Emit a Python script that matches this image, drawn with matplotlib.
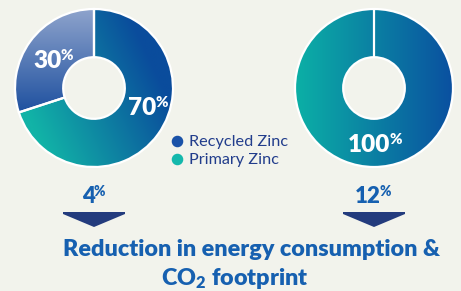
import numpy as np
import matplotlib.pyplot as plt
from matplotlib.colors import to_rgb
from matplotlib.lines import Line2D
from matplotlib.patches import Polygon

# data
left_shares = [70, 30]
left_labels = ['70', '30']
right_shares = [100]
right_labels = ['100']
reductions = ['4', '12']
legend_names = ['Recycled Zinc', 'Primary Zinc']
caption = ['Reduction in energy consumption &', 'CO$_2$ footprint']

W, H = 461, 291
BG = '#f2f3ec'
BLUE = '#1a52a8'
TEAL = '#14b8ac'
TXT = '#1660b0'
NAVY = '#233b7d'

plt.rcParams['font.family'] = ['Lato', 'DejaVu Sans']
plt.rcParams['mathtext.fontset'] = 'custom'
plt.rcParams['mathtext.rm'] = 'Lato:heavy'
plt.rcParams['mathtext.default'] = 'rm'

fig = plt.figure(figsize=(W / 100, H / 100), dpi=100, facecolor=BG)


def gradient(c0, c1, angle, lo=-1.0, hi=1.0, n=200):
    xx, yy = np.meshgrid(np.linspace(-1, 1, n), np.linspace(-1, 1, n))
    a = np.deg2rad(angle)
    t = np.clip((xx * np.cos(a) + yy * np.sin(a) - lo) / (hi - lo), 0, 1)
    c0, c1 = np.array(to_rgb(c0)), np.array(to_rgb(c1))
    return c0 + (c1 - c0) * t[..., None]


def donut(cx, cy, r, shares, grads):
    ax = fig.add_axes([(cx - r) / W, 1 - (cy + r) / H, 2 * r / W, 2 * r / H])
    wedges, _ = ax.pie(shares, startangle=90, counterclock=False, radius=1,
                       wedgeprops=dict(width=0.61, facecolor='none',
                                       edgecolor='white', linewidth=1.6))
    for w, g in zip(wedges, grads):
        im = ax.imshow(g, extent=(-1, 1, -1, 1), origin='lower', zorder=1)
        im.set_clip_path(w)
        w.set_zorder(2)
    if len(shares) == 1:
        ax.plot([0, 0], [0.39, 1], color='white', lw=1.6, zorder=3)
    ax.set_xlim(-1, 1)
    ax.set_ylim(-1, 1)
    ax.axis('off')
    return ax


donut(94, 88, 79, left_shares,
      [gradient('#12b3a7', '#0a4c9c', 25, -0.9, 0.8),
       gradient('#1b4e9e', '#8ea3cc', 90, -0.35, 1.0)])
donut(374, 88, 79, right_shares,
      [gradient('#0cb0a6', '#0a50a0', 0, -1.0, 1.0)])

# overlay axes in pixel coordinates for all the text
bg = fig.add_axes([0, 0, 1, 1])
bg.set_xlim(0, W)
bg.set_ylim(H, 0)
bg.axis('off')


def pct(x, y, num, color, size):
    t = bg.text(x, y, num, color=color, fontsize=size, fontweight='heavy',
                ha='left', va='baseline')
    bg.annotate('%', xy=(1, 1), xycoords=t, xytext=(-0.8, 0.8), textcoords='offset points',
                color=color, fontsize=size * 0.62, fontweight='heavy', ha='left', va='top')


# percentage labels on the rings
for txt, (x, y) in zip(left_labels + right_labels, [(128, 115), (33, 68), (348, 152)]):
    pct(x, y, txt, 'white', 17.5)

# legend
handles = [Line2D([], [], marker='o', ls='', color=c, markersize=7.3) for c in [BLUE, TEAL]]
fig.legend(handles, legend_names, loc='upper left', bbox_to_anchor=(172 / W, 1 - 135 / H),
           frameon=False, fontsize=11.7, labelcolor='#223d8c', handlelength=0.6,
           handletextpad=0.45, labelspacing=0.22, borderpad=0, borderaxespad=0)

# reduction figures and arrows
for txt, cx, x in zip(reductions, [94, 374], [82, 355]):
    pct(x, 203, txt, TXT, 16)
    bg.add_patch(Polygon([(cx - 31, 212), (cx + 31, 212), (cx + 31, 214),
                          (cx, 227), (cx - 31, 214)], closed=True,
                         facecolor=NAVY, edgecolor='none'))

bg.text(252, 256, caption[0], color=TXT, fontsize=16.8, fontweight='heavy',
        ha='center', va='baseline')
bg.text(234.5, 285, caption[1], color=TXT, fontsize=16.8, fontweight='heavy',
        ha='center', va='baseline')

fig.savefig('out.png', dpi=100, facecolor=BG)
